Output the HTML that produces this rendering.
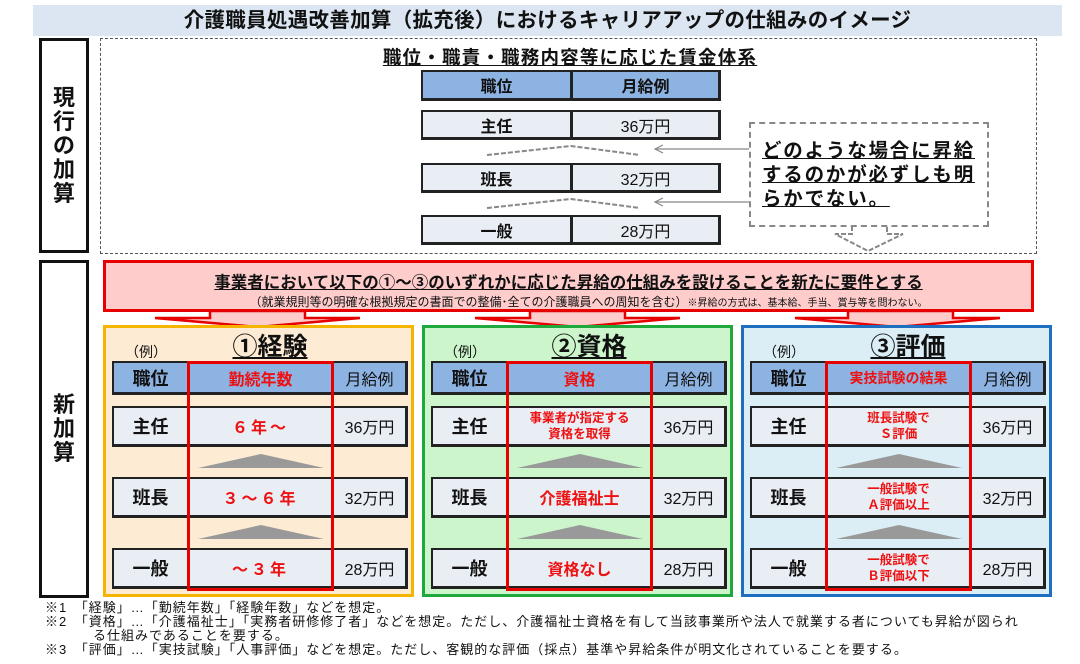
<!DOCTYPE html>
<html><head><meta charset="utf-8"><style>
*{margin:0;padding:0;box-sizing:border-box}
body{width:1080px;height:664px;background:#fff;position:relative;overflow:hidden;font-family:"Liberation Sans","Noto Sans CJK JP",sans-serif;color:#111}
.a{position:absolute}
.c{position:absolute;border:2px solid #222;border-right-width:3px;border-bottom-width:3px;display:flex;align-items:center;justify-content:center;text-align:center;background:#e9edf4}
.h{background:#8db3e2}
.b{font-weight:bold;font-size:18px}
.r{color:#ee1111;font-weight:bold}
.m{font-size:16px}
.pan{position:absolute;top:325px;width:311px;height:272px;border:3px solid}
</style></head><body>
<div class="a" style="left:33px;top:5px;width:1029px;height:31px;background:#dce6f2;text-align:center;font-weight:bold;font-size:20.5px;line-height:31px;letter-spacing:0.3px">介護職員処遇改善加算（拡充後）におけるキャリアアップの仕組みのイメージ</div>

<div class="a" style="left:39px;top:38px;width:50px;height:215px;border:3px solid #111;display:flex;align-items:center;justify-content:center"><div style="font-weight:bold;font-size:22px;line-height:24px;width:24px;text-align:center">現行の加算</div></div>
<div class="a" style="left:39px;top:260px;width:50px;height:338px;border:3px solid #111;display:flex;align-items:center;justify-content:center"><div style="font-weight:bold;font-size:22px;line-height:24px;width:24px;text-align:center">新加算</div></div>

<div class="a" style="left:100px;top:38px;width:937px;height:216px;border:1.5px dashed #555"></div>
<div class="a" style="left:340px;top:44px;width:460px;text-align:center;font-weight:bold;font-size:18.5px;letter-spacing:1.2px;text-decoration:underline">職位・職責・職務内容等に応じた賃金体系</div>

<div class="c h b" style="left:421px;top:70px;width:152px;height:31px;font-size:16px">職位</div>
<div class="c h b" style="left:571px;top:70px;width:150px;height:31px;font-size:16px">月給例</div>
<div class="c b" style="left:421px;top:110px;width:152px;height:30px;font-size:16px">主任</div>
<div class="c m" style="left:571px;top:110px;width:150px;height:30px">36万円</div>
<div class="c b" style="left:421px;top:163px;width:152px;height:30px;font-size:16px">班長</div>
<div class="c m" style="left:571px;top:163px;width:150px;height:30px">32万円</div>
<div class="c b" style="left:421px;top:215px;width:152px;height:30px;font-size:16px">一般</div>
<div class="c m" style="left:571px;top:215px;width:150px;height:30px">28万円</div>

<svg class="a" style="left:0;top:0" width="1080" height="664">
<g fill="none" stroke="#888" stroke-width="2" stroke-dasharray="5,2">
<polyline points="487,155 571,146 640,155"/><polyline points="487,208 571,199 640,208"/>
<polyline points="852,226 852,234 835,234 868,251 903,234 887,234 887,226"/>
</g>
<g stroke="#888" stroke-width="1.2" fill="none">
<line x1="655" y1="149" x2="750" y2="149"/><polyline points="663,145 655,149 663,153"/>
<line x1="655" y1="202" x2="750" y2="202"/><polyline points="663,198 655,202 663,206"/>
</g>
<g fill="#ffcccc" stroke="#e60000" stroke-width="2.5">
<polygon points="210,311 210,318 155,318 258,327 360,318 305,318 305,311"/>
<polygon points="530,311 530,318 475,318 578,327 680,318 625,318 625,311"/>
<polygon points="848,311 848,318 795,318 897,327 1000,318 953,318 953,311"/>
</g>
</svg>

<div class="a" style="left:749px;top:122px;width:240px;height:105px;border:2px dashed #888;background:#fff"></div>
<div class="a" style="left:762px;top:139px;font-weight:bold;font-size:19.5px;letter-spacing:1.8px;line-height:24px;text-decoration:underline;width:218px">どのような場合に昇給するのかが必ずしも明らかでない。</div>

<div class="a" style="left:103px;top:260px;width:931px;height:52px;background:#ffcccc;border:3px solid #e60000;text-align:center">
<div style="font-weight:bold;font-size:16.5px;text-decoration:underline;margin-top:6px">事業者において以下の①～③のいずれかに応じた昇給の仕組みを設けることを新たに要件とする</div>
<div style="font-size:12px;margin-top:0px;padding-left:40px">（就業規則等の明確な根拠規定の書面での整備･全ての介護職員への周知を含む）<span style="font-size:10px">※昇給の方式は、基本給、手当、賞与等を問わない。</span></div>
</div>

<!-- panels -->
<div class="pan" style="left:103px;border-color:#f5b400;background:#fdebd3"></div>
<div class="pan" style="left:422px;border-color:#1fa83c;background:#ccf5cc"></div>
<div class="pan" style="left:741px;border-color:#1f6fc0;background:#dbeef6"></div>

<div id="p"></div>
<script>
var P=[[103,"①経験","勤続年数","<span style='font-size:16px;letter-spacing:3px'>６年～</span>","<span style='font-size:16px;letter-spacing:3px'>３～６年</span>","<span style='font-size:16px;letter-spacing:3px'>～３年</span>",16],
[422,"②資格","資格","<span style='font-size:12.5px;line-height:16px'>事業者が指定する<br>資格を取得</span>","<span style='font-size:16px'>介護福祉士</span>","<span style='font-size:16px'>資格なし</span>",16],
[741,"③評価","実技試験の結果","<span style='font-size:12.5px;line-height:16px'>班長試験で<br>Ｓ評価</span>","<span style='font-size:12.5px;line-height:16px'>一般試験で<br>Ａ評価以上</span>","<span style='font-size:12.5px;line-height:16px'>一般試験で<br>Ｂ評価以下</span>",14]];
var h="";
P.forEach(function(p){var L=p[0];
h+="<div class='a' style='left:"+(L+22)+"px;top:342px;font-size:14px'>（例）</div>";
h+="<div class='a' style='left:"+(L+87)+"px;top:327px;width:160px;text-align:center;font-weight:bold;font-size:25px;text-decoration:underline'>"+p[1]+"</div>";
var rows=[[361,34,"職位",p[2],"月給例",1],[406,41,"主任",p[3],"36万円"],[477,41,"班長",p[4],"32万円"],[548,41,"一般",p[5],"28万円"]];
rows.forEach(function(r){var hc=r[5]?" h":"";
h+="<div class='c b"+hc+"' style='left:"+(L+9)+"px;top:"+r[0]+"px;width:78px;height:"+r[1]+"px'>"+r[2]+"</div>";
h+="<div class='c r"+hc+"' style='left:"+(L+85)+"px;top:"+r[0]+"px;width:146px;height:"+r[1]+"px;font-size:"+(r[5]?p[6]:16)+"px'>"+r[3]+"</div>";
h+="<div class='c m"+hc+"' style='left:"+(L+229)+"px;top:"+r[0]+"px;width:76px;height:"+r[1]+"px'>"+r[4]+"</div>";});
h+="<svg class='a' style='left:"+(L+95)+"px;top:454px' width='126' height='90'><polygon points='0,14 63,0 126,14' fill='#999'/><polygon points='0,85 63,71 126,85' fill='#999'/></svg>";
h+="<div class='a' style='left:"+(L+84)+"px;top:361px;width:147px;height:230px;border:3px solid #e60000'></div>";
});
document.getElementById("p").innerHTML=h;
</script>

<div class="a" style="left:45px;top:601px;font-size:13px;letter-spacing:1px;line-height:14px;width:1020px;white-space:nowrap">
<div>※1　「経験」…「勤続年数」「経験年数」などを想定。</div>
<div>※2　「資格」…「介護福祉士」「実務者研修修了者」などを想定。ただし、介護福祉士資格を有して当該事業所や法人で就業する者についても昇給が図られ</div>
<div style="padding-left:48px">る仕組みであることを要する。</div>
<div>※3　「評価」…「実技試験」「人事評価」などを想定。ただし、客観的な評価（採点）基準や昇給条件が明文化されていることを要する。</div>
</div>
</body></html>
